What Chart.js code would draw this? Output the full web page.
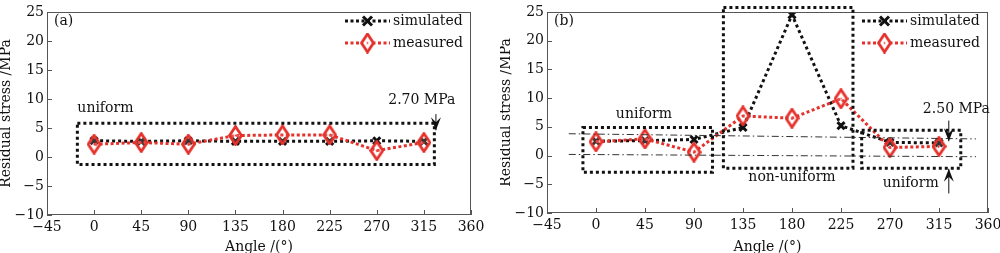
<!DOCTYPE html>
<html>
<head>
<meta charset="utf-8">
<script src="https://cdn.jsdelivr.net/npm/chart.js@4.4.1/dist/chart.umd.min.js"></script>
<style>
  html, body { margin: 0; padding: 0; background: #fff; }
  .wrap { position: absolute; top: 0; width: 500px; height: 253px; }
</style>
</head>
<body>
<div class="wrap" style="left:0"><canvas id="chartA" width="500" height="253"></canvas></div>
<div class="wrap" style="left:500px"><canvas id="chartB" width="500" height="253"></canvas></div>
<script>
// data
const angles = [0, 45, 90, 135, 180, 225, 270, 315];
const xTicks = [-45, 0, 45, 90, 135, 180, 225, 270, 315, 360];
const yTicks = [-10, -5, 0, 5, 10, 15, 20, 25];

const simulatedA = [2.8, 2.7, 2.8, 2.7, 2.7, 2.7, 2.8, 2.7];
const measuredA = [2.2, 2.5, 2.2, 3.7, 3.8, 3.8, 1.1, 2.5];

const simulatedB = [2.5, 2.6, 2.8, 4.9, 24.5, 5.2, 2.3, 2.2];
const measuredB = [2.4, 2.9, 0.6, 6.9, 6.5, 9.9, 1.4, 1.6];

// annotation boxes in data units: [x1, x2, y1, y2]
const boxesA = [[-16, 325, -1.3, 5.8]];
const boxesB = [[-12, 107, -2.9, 4.9], [117, 236, -2.2, 25.8], [244, 335, -2.2, 4.4]];
// dash-dot lines in (b): [x1, y1, x2, y2]
const refLinesB = [[-25, 3.8, 349, 2.9], [-25, 0.2, 349, -0.2]];

const FONT = '"DejaVu Serif", "Liberation Serif", serif';
const FS = 14;
const RED = '#e5312b';
Chart.defaults.font.family = FONT;

// tall diamond marker
function makeDiamond(w, h) {
    const c = document.createElement('canvas');
    c.width = w; c.height = h;
    const g = c.getContext('2d');
    g.strokeStyle = RED;
    g.lineWidth = 2.8;
    g.fillStyle = 'rgba(255,255,255,0.15)';
    g.beginPath();
    g.moveTo(w / 2, 1.5);
    g.lineTo(w - 1.5, h / 2);
    g.lineTo(w / 2, h - 1.5);
    g.lineTo(1.5, h / 2);
    g.closePath();
    g.fill();
    g.stroke();
    g.fillStyle = RED;
    g.fillRect(w / 2 - 0.8, h / 2 - 0.8, 1.6, 1.6);
    return c;
}
const diamond = makeDiamond(15, 21);

function drawArrow(ctx, x, y1, y2) {
    // shaft from y1 to y2, head at y2
    const dir = y2 > y1 ? 1 : -1;
    ctx.save();
    ctx.strokeStyle = '#111';
    ctx.fillStyle = '#111';
    ctx.lineWidth = 1;
    ctx.setLineDash([]);
    ctx.beginPath();
    ctx.moveTo(x, y1);
    ctx.lineTo(x, y2);
    ctx.stroke();
    ctx.beginPath();
    ctx.moveTo(x, y2);
    ctx.lineTo(x - 5, y2 - dir * 13);
    ctx.lineTo(x, y2 - dir * 8);
    ctx.lineTo(x + 5, y2 - dir * 13);
    ctx.closePath();
    ctx.fill();
    ctx.restore();
}

function makePlugin(opts) {
    return {
        id: 'decor' + opts.tag,
        afterDraw(chart) {
            const ctx = chart.ctx;
            const a = chart.chartArea;
            const xs = chart.scales.x, ys = chart.scales.y;
            ctx.save();
            // frame
            ctx.strokeStyle = '#555';
            ctx.lineWidth = 1;
            ctx.strokeRect(a.left + 0.5, a.top + 0.5, a.right - a.left - 1, a.bottom - a.top - 1);
            // inward ticks
            ctx.beginPath();
            xTicks.forEach(v => {
                const px = Math.round(xs.getPixelForValue(v)) + 0.5;
                ctx.moveTo(px, a.bottom);
                ctx.lineTo(px, a.bottom - 5);
            });
            yTicks.forEach(v => {
                const py = Math.round(ys.getPixelForValue(v)) + 0.5;
                ctx.moveTo(a.left, py);
                ctx.lineTo(a.left + 5, py);
            });
            ctx.stroke();

            // reference lines
            ctx.strokeStyle = '#333';
            ctx.lineWidth = 1;
            ctx.setLineDash([7, 3, 1.5, 3]);
            (opts.refLines || []).forEach(l => {
                ctx.beginPath();
                ctx.moveTo(xs.getPixelForValue(l[0]), ys.getPixelForValue(l[1]));
                ctx.lineTo(xs.getPixelForValue(l[2]), ys.getPixelForValue(l[3]));
                ctx.stroke();
            });

            // dotted boxes
            ctx.strokeStyle = '#111';
            ctx.lineWidth = 3;
            ctx.setLineDash([3, 3]);
            opts.boxes.forEach(b => {
                const x1 = xs.getPixelForValue(b[0]), x2 = xs.getPixelForValue(b[1]);
                const y1 = ys.getPixelForValue(b[2]), y2 = ys.getPixelForValue(b[3]);
                ctx.strokeRect(x1, y2, x2 - x1, y1 - y2);
            });
            ctx.setLineDash([]);

            // texts
            ctx.fillStyle = '#111';
            ctx.font = FS + 'px ' + FONT;
            ctx.textBaseline = 'middle';
            ctx.textAlign = 'left';
            ctx.fillText(opts.panel, a.left + 7, 21);
            opts.labels.forEach(t => {
                ctx.textAlign = t.align || 'center';
                ctx.fillText(t.text, xs.getPixelForValue(t.x), ys.getPixelForValue(t.y));
            });
            opts.arrows.forEach(ar => {
                drawArrow(ctx, xs.getPixelForValue(ar.x), ys.getPixelForValue(ar.y1), ys.getPixelForValue(ar.y2));
            });

            // legend
            const lx = a.right - opts.legendOffset;
            const rows = [
                { text: 'simulated', color: '#111', y: 21, marker: 'x' },
                { text: 'measured', color: RED, y: 43, marker: 'd' }
            ];
            rows.forEach(r => {
                ctx.strokeStyle = r.color;
                ctx.lineWidth = 3;
                ctx.setLineDash([3, 2.5]);
                ctx.beginPath();
                ctx.moveTo(lx, r.y);
                ctx.lineTo(lx + 45, r.y);
                ctx.stroke();
                ctx.setLineDash([]);
                const mx = lx + 22.5;
                if (r.marker === 'x') {
                    ctx.strokeStyle = '#111';
                    ctx.lineWidth = 3;
                    ctx.beginPath();
                    ctx.moveTo(mx - 4.5, r.y - 4.5); ctx.lineTo(mx + 4.5, r.y + 4.5);
                    ctx.moveTo(mx + 4.5, r.y - 4.5); ctx.lineTo(mx - 4.5, r.y + 4.5);
                    ctx.stroke();
                } else {
                    ctx.fillStyle = '#fff';
                    ctx.beginPath();
                    ctx.moveTo(mx, r.y - 9); ctx.lineTo(mx + 6.5, r.y); ctx.lineTo(mx, r.y + 9); ctx.lineTo(mx - 6.5, r.y);
                    ctx.closePath(); ctx.fill();
                    ctx.drawImage(diamond, mx - 7.5, r.y - 10.5);
                }
                ctx.fillStyle = '#111';
                ctx.textAlign = 'left';
                ctx.fillText(r.text, lx + 48, r.y);
            });
            ctx.restore();
        }
    };
}

function buildChart(id, sim, meas, layout, decor) {
    const tickFont = { family: FONT, size: FS };
    return new Chart(document.getElementById(id), {
        type: 'line',
        data: {
            datasets: [
                {
                    label: 'measured',
                    data: angles.map((a, i) => ({ x: a, y: meas[i] })),
                    borderColor: RED,
                    borderWidth: 3,
                    borderDash: [3, 2.5],
                    pointStyle: diamond,
                    pointRadius: 9,
                    tension: 0,
                    order: 1
                },
                {
                    label: 'simulated',
                    data: angles.map((a, i) => ({ x: a, y: sim[i] })),
                    borderColor: '#111',
                    borderWidth: 3,
                    borderDash: [3, 3],
                    pointStyle: 'crossRot',
                    pointRadius: 5,
                    pointBorderWidth: 3,
                    pointBorderColor: '#111',
                    tension: 0,
                    order: 2
                }
            ]
        },
        options: {
            responsive: false,
            animation: false,
            devicePixelRatio: 1,
            layout: { padding: { top: layout.top, right: layout.right, left: 0, bottom: 0 } },
            plugins: { legend: { display: false }, tooltip: { enabled: false } },
            scales: {
                x: {
                    type: 'linear',
                    min: -45, max: 360,
                    afterBuildTicks: s => { s.ticks = xTicks.map(v => ({ value: v })); },
                    afterFit: s => { s.height = layout.xh; s.paddingLeft = 0; s.paddingRight = 0; },
                    grid: { display: false, drawTicks: false },
                    border: { display: false },
                    ticks: {
                        font: tickFont, color: '#111', padding: 4, maxRotation: 0,
                        callback: v => String(v).replace('-', '\u2212')
                    },
                    title: { display: true, text: 'Angle /(\u00b0)', font: { family: FONT, size: FS, lineHeight: 0.86 }, color: '#111', padding: { top: 0, bottom: 0 } }
                },
                y: {
                    min: -10, max: 25,
                    afterBuildTicks: s => { s.ticks = yTicks.map(v => ({ value: v })); },
                    afterFit: s => { s.width = layout.yw; s.paddingTop = 0; s.paddingBottom = 0; },
                    grid: { display: false, drawTicks: false },
                    border: { display: false },
                    ticks: {
                        font: tickFont, color: '#111', padding: 3,
                        callback: v => String(v).replace('-', '\u2212')
                    },
                    title: { display: true, text: 'Residual stress /MPa', font: { family: FONT, size: FS, lineHeight: 0.93 }, color: '#111', padding: { top: 0, bottom: 0 } }
                }
            }
        },
        plugins: [decor]
    });
}

buildChart('chartA', simulatedA, measuredA, { top: 7, right: 29, xh: 38, yw: 47 }, makePlugin({
    tag: 'A',
    panel: '(a)',
    boxes: boxesA,
    refLines: [],
    legendOffset: 126,
    labels: [
        { text: 'uniform', x: -16, y: 8.4, align: 'left' },
        { text: '2.70 MPa', x: 313, y: 9.8 }
    ],
    arrows: [{ x: 326.5, y1: 7.4, y2: 4.6 }]
}));

buildChart('chartB', simulatedB, measuredB, { top: 7, right: 12, xh: 40, yw: 47 }, makePlugin({
    tag: 'B',
    panel: '(b)',
    boxes: boxesB,
    refLines: refLinesB,
    legendOffset: 126,
    labels: [
        { text: 'uniform', x: 44, y: 7.2 },
        { text: 'non-uniform', x: 180, y: -3.8 },
        { text: '2.50 MPa', x: 331, y: 8 },
        { text: 'uniform', x: 289, y: -4.9 }
    ],
    arrows: [{ x: 324, y1: 6.1, y2: 2.5 }, { x: 324, y1: -6.6, y2: -2.3 }]
}));
</script>
</body>
</html>
